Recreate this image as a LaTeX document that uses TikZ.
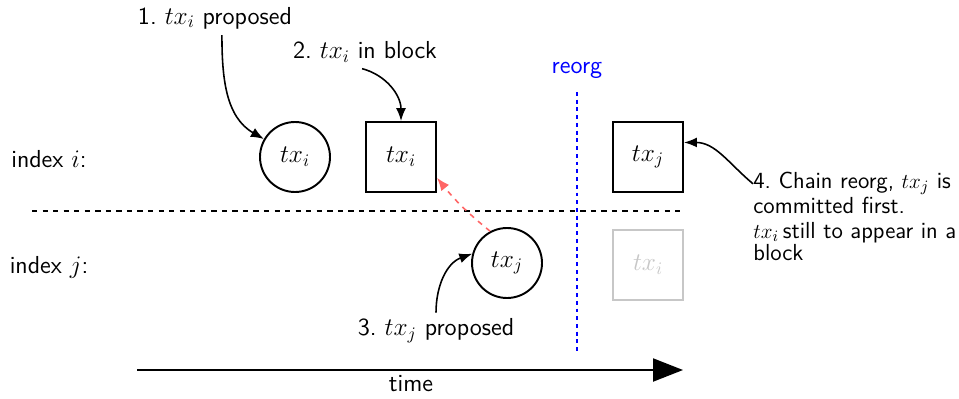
\documentclass[tikz,border=0pt]{standalone}
\usepackage{tikz}
\usepackage{xcolor}
\usetikzlibrary{arrows.meta,positioning}

\begin{document}
\begin{tikzpicture}[
  every node/.style={font=\fontsize{14}{16.5}\selectfont\sffamily},
  txcirc/.style={draw=black,circle,line width=1.1pt,minimum size=1.4cm,inner sep=0pt},
  txblock/.style={draw=black,line width=1.1pt,minimum size=1.4cm,inner sep=0pt},
  ghost/.style={txblock,draw=black!22,text=black!22},
  arrow/.style={-{Latex[length=2.6mm,width=2mm]},line width=0.9pt,draw=black},
  note/.style={align=left,inner sep=0pt,font=\fontsize{13.2}{12.6}\selectfont\sffamily}
]
\useasboundingbox (0,0) rectangle (19.18,7.96);

% rows
\node (idxi) at (0.98,4.78) {index $i$:};
\node (idxj) at (0.98,2.62) {index $j$:};
\coordinate (sepl) at (0.64,3.74);
\coordinate (sepr) at (13.66,3.74);
\draw[dashed,line width=0.8pt] (sepl) -- (sepr);

% transactions
\node[txcirc] (ci) at (5.9,4.82) {$tx_i$};
\node[txblock] (bi) at (8.02,4.82) {$tx_i$};
\node[txcirc] (cj) at (10.14,2.7) {$tx_j$};
\node[txblock] (bj) at (12.96,4.82) {$tx_j$};
\node[ghost] (gi) at (12.96,2.66) {$tx_i$};

% reorg marker
\node[text=blue] (reorg) at (11.54,6.56) {reorg};
\coordinate (rtop) at (11.54,6.12);
\coordinate (rbot) at (11.54,0.92);
\draw[blue,line width=0.9pt,dash pattern=on 2.2pt off 2.2pt] (rtop) -- (rbot);

% steps
\node (s1) at (4.3,7.6) {1.\ $tx_i$ proposed};
\node (s2) at (7.3,6.92) {2.\ $tx_i$ in block};
\node (s3) at (8.72,1.34) {3.\ $tx_j$ proposed};
\node[note,anchor=north west] (s4) at (15.06,4.52) {4.\ Chain reorg, $tx_j$ is\\committed first.};
\node[note,anchor=north west] (s4b) at (15.06,3.52) {$tx_i$\,still to appear in a\\block};

\draw[arrow] (s1.-68) to[out=-90,in=150] (ci.150);
\draw[arrow] (s2.-100) to[out=-15,in=90] (bi.north);
\draw[arrow] (s3.north) to[out=90,in=200] (cj.165);
\draw[arrow] (s4.west) ++(0,0.18) coordinate (s4in) (s4in) to[out=140,in=0] (bj.22);
\draw[-{Latex[length=2.6mm,width=2mm]},red!60,dashed,line width=0.9pt] (cj.118) to[bend left=6] (bi.-30);

% time axis
\coordinate (t0) at (2.74,0.56);
\coordinate (t1) at (13.66,0.56);
\draw[-{Triangle[length=0.6cm,width=0.46cm]},line width=1.2pt] (t0) -- (t1);
\node (time) at (8.22,0.28) {time};
\end{tikzpicture}
\end{document}
